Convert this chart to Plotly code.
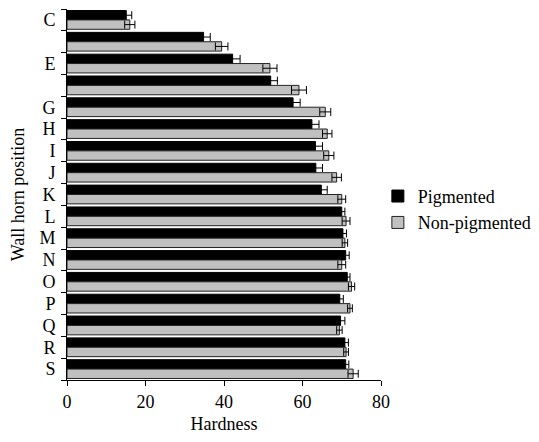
import plotly.graph_objects as go

categories = ["C", "D", "E", "F", "G", "H", "I", "J", "K", "L", "M", "N", "O", "P", "Q", "R", "S"]
tick_labels = ["C", "", "E", "", "G", "H", "I", "J", "K", "L", "M", "N", "O", "P", "Q", "R", "S"]
pigmented = [15.1, 34.8, 42.2, 51.9, 57.6, 62.4, 63.3, 63.4, 64.8, 70.0, 70.3, 71.0, 71.4, 69.5, 69.7, 70.8, 71.0]
pigmented_err = [1.4, 1.7, 1.9, 1.7, 1.8, 1.8, 1.8, 1.7, 1.5, 0.8, 0.9, 0.9, 0.7, 0.9, 1.1, 0.9, 0.8]
non_pigmented = [16.0, 39.4, 51.7, 59.1, 65.8, 66.3, 66.7, 68.7, 70.0, 71.1, 70.8, 70.0, 72.5, 72.1, 69.4, 71.1, 72.9]
non_pigmented_err = [1.3, 1.6, 1.8, 1.9, 1.4, 1.2, 1.3, 1.2, 1.0, 1.0, 0.7, 1.0, 0.8, 0.6, 0.7, 0.6, 1.3]

FONT = "Liberation Serif"

fig = go.Figure()
fig.add_trace(go.Bar(
    y=categories, x=pigmented, orientation="h", name="Pigmented",
    marker=dict(color="#000000", line=dict(color="#000000", width=1)),
    error_x=dict(type="data", array=pigmented_err, color="#000000", thickness=1, width=4),
))
fig.add_trace(go.Bar(
    y=categories, x=non_pigmented, orientation="h", name="Non-pigmented",
    marker=dict(color="#c0c0c0", line=dict(color="#222222", width=1)),
    error_x=dict(type="data", array=non_pigmented_err, color="#000000", thickness=1, width=4),
))

# page body has an 8px default margin; figure size compensates for it
fig.update_layout(
    width=531, height=434,
    margin=dict(l=59, r=158, t=1, b=62, autoexpand=False),
    paper_bgcolor="white", plot_bgcolor="white",
    font=dict(family=FONT, size=18, color="black"),
    barmode="group", bargap=0.14, bargroupgap=0.0,
    showlegend=True,
    legend=dict(x=0.99, xanchor="left", y=0.46, yanchor="middle",
                bgcolor="rgba(0,0,0,0)", font=dict(family=FONT, size=18, color="black"),
                itemwidth=30, tracegroupgap=4),
)
fig.update_xaxes(
    range=[0, 80], tickvals=[0, 20, 40, 60, 80], automargin=False,
    showline=True, linecolor="black", linewidth=1, mirror=False,
    ticks="outside", ticklen=5, tickcolor="black", tickwidth=1,
    tickfont=dict(family=FONT, size=18, color="black"),
    showgrid=False, zeroline=False,
    title=dict(text="Hardness", font=dict(family=FONT, size=18, color="black"), standoff=6),
)
fig.update_yaxes(
    type="category", categoryorder="array", categoryarray=categories,
    autorange="reversed", automargin=False,
    tickmode="array", tickvals=categories, ticktext=tick_labels,
    tickson="boundaries", ticklabelstandoff=7,
    showline=True, linecolor="black", linewidth=1,
    ticks="outside", ticklen=5, tickcolor="black", tickwidth=1,
    tickfont=dict(family=FONT, size=18, color="black"),
    showgrid=False, zeroline=False,
    title=dict(text="Wall horn position", font=dict(family=FONT, size=18, color="black"), standoff=22),
)

fig.write_html("out.html")
